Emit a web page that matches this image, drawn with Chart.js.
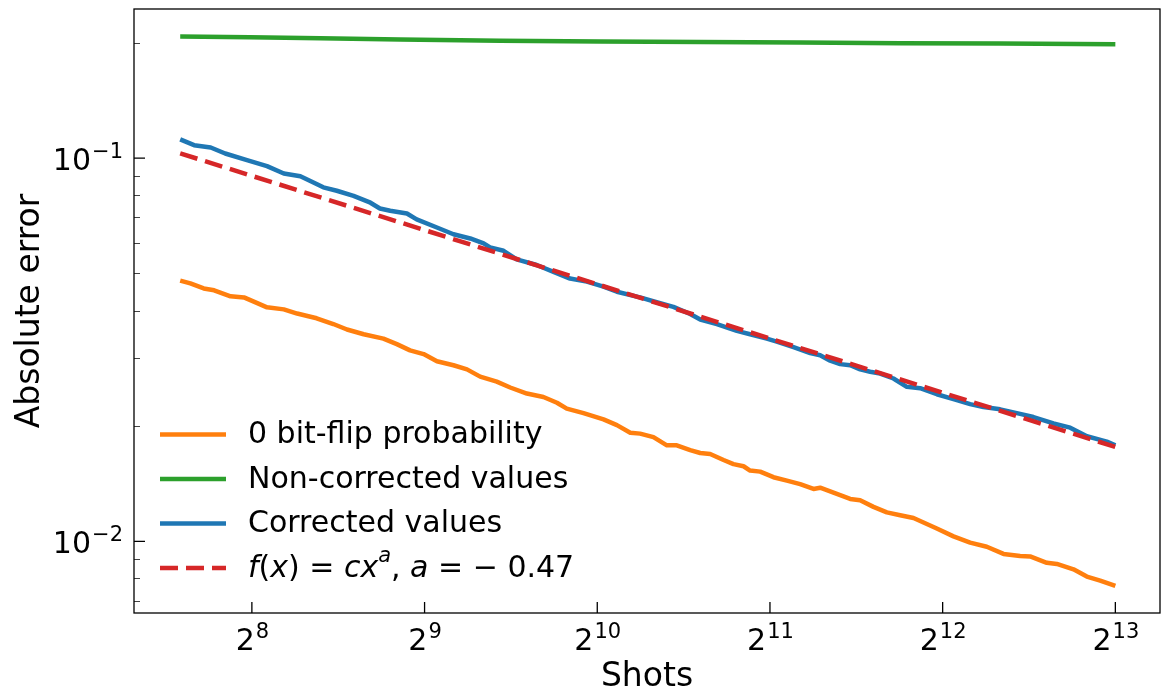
<!DOCTYPE html>
<html>
<head>
<meta charset="utf-8">
<script src="https://cdn.jsdelivr.net/npm/chart.js@4.4.0/dist/chart.umd.min.js"></script>
<style>
  html, body { margin: 0; padding: 0; background: #fff; }
  #c { display: block; }
</style>
</head>
<body>
<canvas id="c" width="1161" height="693"></canvas>
<script>
// data (log-log)
const shotsOrange = [192,200,211,220,235,248,261,272,291,307,332,355,375,401,434,458,483,510,538,575,607,640,684,722,772,825,871,906,969,1050,1108,1169,1216,1283,1354,1409,1487,1548,1611,1700,1769,1842,1891,1969,2077,2192,2312,2439,2505,2643,2826,2941,3103,3274,3454,3644,3844,4001,4278,4574,4890,5229,5590,5819,6222,6477,6925,7306,7708,8192];
const errOrange = [0.0479,0.0471,0.0457,0.0452,0.0436,0.0433,0.0419,0.0408,0.0403,0.0393,0.0382,0.0369,0.0357,0.0347,0.0338,0.0327,0.0315,0.0308,0.0295,0.0288,0.0281,0.0269,0.0261,0.0252,0.0243,0.0238,0.0230,0.0222,0.0216,0.0208,0.0201,0.0192,0.0191,0.0187,0.0178,0.0178,0.0173,0.0170,0.0169,0.0163,0.0159,0.0157,0.0153,0.0152,0.0147,0.0144,0.0141,0.0137,0.0138,0.0134,0.0129,0.0128,0.0123,0.0119,0.0117,0.0115,0.0111,0.0108,0.0103,0.00992,0.00968,0.00927,0.00915,0.00913,0.00879,0.00873,0.00845,0.00809,0.00790,0.00765];

const shotsGreen = [192,254,337,464,693,1036,1548,2312,3454,5159,8192];
const errGreen = [0.2077,0.2068,0.2056,0.2040,0.2025,0.2014,0.2008,0.2002,0.1995,0.1992,0.1983];

const shotsBlue = [192,203,217,230,251,272,291,311,323,341,360,385,412,428,446,477,496,538,575,615,649,666,703,741,803,859,918,982,1050,1108,1200,1216,1318,1390,1487,1548,1655,1793,1891,2022,2105,2251,2407,2505,2608,2714,2826,2941,3062,3187,3362,3547,3742,4001,4278,4574,4825,5159,5590,5897,6390,6834,7306,7917,8192];
const errBlue = [0.1119,0.1081,0.1066,0.1028,0.0988,0.0953,0.0912,0.0897,0.0873,0.0839,0.0822,0.0797,0.0765,0.0739,0.0729,0.0717,0.0692,0.0659,0.0633,0.0617,0.0599,0.0585,0.0573,0.0544,0.0526,0.0505,0.0485,0.0476,0.0462,0.0448,0.0435,0.0433,0.0418,0.0409,0.0392,0.0379,0.0369,0.0354,0.0347,0.0338,0.0332,0.0321,0.0310,0.0306,0.0296,0.0290,0.0288,0.0281,0.0277,0.0274,0.0266,0.0253,0.0251,0.0242,0.0235,0.0228,0.0224,0.0221,0.0215,0.0211,0.0203,0.0198,0.0188,0.0182,0.0178];

// power-law fit f(x) = c x^a, straight on log-log axes: two end points
const shotsFit = [192, 8192];
const errFit = [0.1029, 0.01763];

const seriesLabels = ['0 bit-flip probability', 'Non-corrected values', 'Corrected values'];

const xTicks = [256, 512, 1024, 2048, 4096, 8192];
const xTickLabels = ['2^8', '2^9', '2^10', '2^11', '2^12', '2^13'];
const yMajor = [0.01, 0.1];
const yTickLabels = ['10^−2', '10^−1'];
const yMinor = [0.007, 0.008, 0.009, 0.02, 0.03, 0.04, 0.05, 0.06, 0.07, 0.08, 0.09, 0.2];

const xRange = [159.5, 9800];
const yRange = [0.0065, 0.245];

const colors = {
    orange: '#ff7f0e',
    green: '#2ca02c',
    blue: '#1f77b4',
    red: '#d62728'
};
const FONT = 'DejaVu Sans';
const font = (size, italic) => (italic ? 'italic ' : '') + size + 'px "' + FONT + '"';

const toXY = (xs, ys) => xs.map((x, i) => ({ x: x, y: ys[i] }));

// "base^exp" drawn with a smaller raised exponent, like mathtext
function drawPower(ctx, label, x, y, align) {
    const [b, e] = label.split('^');
    ctx.font = font(30);
    const wb = ctx.measureText(b).width;
    ctx.font = font(21);
    const we = ctx.measureText(e).width;
    const w = wb + we;
    const x0 = align === 'right' ? x - w : x - w / 2;
    ctx.textAlign = 'left';
    ctx.textBaseline = 'alphabetic';
    ctx.font = font(30);
    ctx.fillText(b, x0, y);
    ctx.font = font(21);
    ctx.fillText(e, x0 + wb + 1, y - 12);
}

// frame, inward ticks, tick labels, axis titles and legend
const decorations = {
    id: 'decorations',
    afterDraw(chart) {
        const { ctx, chartArea: a, scales: { x, y } } = chart;
        ctx.save();

        // major ticks (inward)
        ctx.strokeStyle = '#000';
        ctx.lineWidth = 1.3;
        ctx.beginPath();
        xTicks.forEach(v => {
            const px = x.getPixelForValue(v);
            ctx.moveTo(px, a.bottom);
            ctx.lineTo(px, a.bottom - 11);
        });
        yMajor.forEach(v => {
            const py = y.getPixelForValue(v);
            ctx.moveTo(a.left, py);
            ctx.lineTo(a.left + 11, py);
        });
        ctx.stroke();

        // minor ticks
        ctx.strokeStyle = '#444';
        ctx.lineWidth = 1;
        ctx.beginPath();
        yMinor.forEach(v => {
            const py = Math.round(y.getPixelForValue(v)) + 0.5;
            ctx.moveTo(a.left, py);
            ctx.lineTo(a.left + 6, py);
        });
        ctx.stroke();

        // frame
        ctx.strokeStyle = '#000';
        ctx.lineWidth = 1.3;
        ctx.strokeRect(a.left, a.top, a.width, a.height);

        // tick labels
        ctx.fillStyle = '#000';
        xTicks.forEach((v, i) => drawPower(ctx, xTickLabels[i], x.getPixelForValue(v), a.bottom + 37, 'center'));
        yMajor.forEach((v, i) => drawPower(ctx, yTickLabels[i], a.left - 12, y.getPixelForValue(v) + 12, 'right'));

        // axis titles
        ctx.font = font(33);
        ctx.textAlign = 'center';
        ctx.textBaseline = 'middle';
        ctx.fillText('Shots', (a.left + a.right) / 2, 677);
        ctx.save();
        ctx.translate(30, (a.top + a.bottom) / 2);
        ctx.rotate(-Math.PI / 2);
        ctx.fillText('Absolute error', 0, 0);
        ctx.restore();

        // legend
        const rows = [434.5, 479, 523.5, 568];
        const handleX0 = 160, handleX1 = 226, textX = 248;
        chart.data.datasets.forEach((d, r) => {
            ctx.strokeStyle = d.borderColor;
            ctx.lineWidth = d.borderWidth;
            ctx.setLineDash(d.borderDash || []);
            ctx.beginPath();
            ctx.moveTo(handleX0, rows[r]);
            ctx.lineTo(handleX1, rows[r]);
            ctx.stroke();
            ctx.setLineDash([]);
        });
        ctx.textAlign = 'left';
        ctx.textBaseline = 'middle';
        ctx.font = font(30);
        seriesLabels.forEach((t, r) => ctx.fillText(t, textX, rows[r] + 1));

        // fit label with math-style italics
        const parts = [
            { t: 'f', it: true }, { t: '(' }, { t: 'x', it: true }, { t: ') = ' },
            { t: 'c', it: true }, { t: 'x', it: true }, { t: 'a', it: true, sup: true },
            { t: ', ' }, { t: 'a', it: true }, { t: ' = − 0.47' }
        ];
        let cx = textX;
        const base = rows[3] + 1;
        parts.forEach(p => {
            ctx.font = font(p.sup ? 21 : 30, p.it);
            ctx.fillText(p.t, cx, p.sup ? base - 12 : base);
            cx += ctx.measureText(p.t).width;
        });

        ctx.restore();
    }
};

const noPad = s => { s.paddingTop = 0; s.paddingBottom = 0; s.paddingLeft = 0; s.paddingRight = 0; };

new Chart(document.getElementById('c'), {
    type: 'line',
    data: {
        datasets: [
            { label: seriesLabels[0], data: toXY(shotsOrange, errOrange), borderColor: colors.orange, borderWidth: 4.5, order: 4 },
            { label: seriesLabels[1], data: toXY(shotsGreen, errGreen), borderColor: colors.green, borderWidth: 4.5, order: 3 },
            { label: seriesLabels[2], data: toXY(shotsBlue, errBlue), borderColor: colors.blue, borderWidth: 4.5, order: 2 },
            { label: 'f(x) = cx^a, a = -0.47', data: toXY(shotsFit, errFit), borderColor: colors.red, borderWidth: 4.5, borderDash: [18, 8], order: 1 }
        ]
    },
    options: {
        responsive: false,
        animation: false,
        devicePixelRatio: 1,
        layout: { padding: { top: 9, right: 1, left: 0, bottom: 0 } },
        elements: {
            point: { radius: 0, hoverRadius: 0 },
            line: { tension: 0, fill: false, borderJoinStyle: 'round', borderCapStyle: 'butt' }
        },
        plugins: {
            legend: { display: false },
            tooltip: { enabled: false }
        },
        scales: {
            x: {
                type: 'logarithmic',
                min: xRange[0],
                max: xRange[1],
                afterBuildTicks: s => { s.ticks = xTicks.map(v => ({ value: v })); },
                afterFit: s => { s.height = 80; noPad(s); },
                ticks: { display: false },
                grid: { display: false, drawTicks: false },
                border: { display: false }
            },
            y: {
                type: 'logarithmic',
                min: yRange[0],
                max: yRange[1],
                afterBuildTicks: s => { s.ticks = yMajor.map(v => ({ value: v })); },
                afterFit: s => { s.width = 134; noPad(s); },
                ticks: { display: false },
                grid: { display: false, drawTicks: false },
                border: { display: false }
            }
        }
    },
    plugins: [decorations]
});
</script>
</body>
</html>
